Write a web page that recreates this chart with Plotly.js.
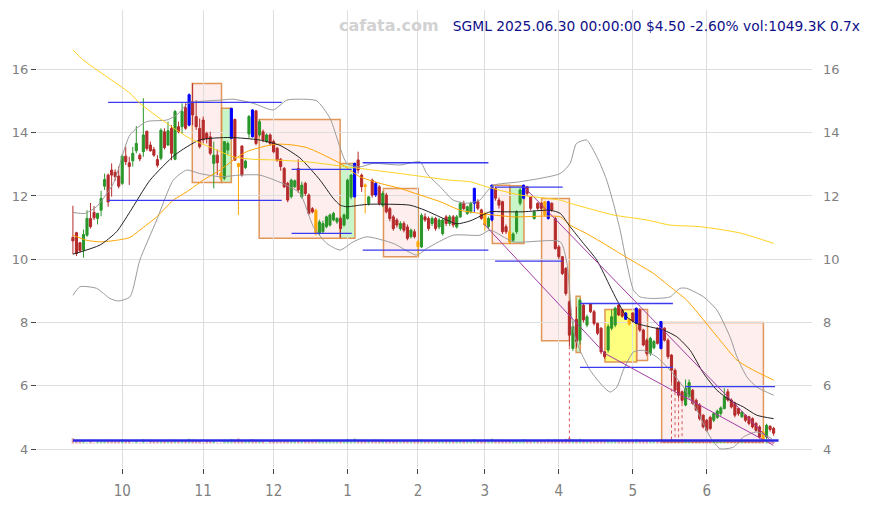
<!DOCTYPE html>
<html><head><meta charset="utf-8">
<script src="https://cdn.plot.ly/plotly-3.0.1.min.js"></script>
<style>html,body{margin:0;padding:0;background:#fff;}#chart{width:871px;height:505px;}</style>
</head><body><div id="chart"></div>
<script>
// ---- daily bars, index 0 = 2024-09-11 ... 199 = 2025-06-30 (trading days) ----
const openP = [
10.69,10.84,10.52,10.29,10.76,11.29,11.48,11.29,11.55,12.31,
12.66,12.82,12.75,12.63,12.40,13.26,13.05,13.11,13.43,13.29,
13.40,14.05,13.61,13.47,13.15,13.19,14.03,13.61,14.14,13.16,
14.19,14.19,14.79,14.24,14.98,14.51,14.14,14.40,13.98,13.87,
13.03,13.29,12.71,12.56,13.45,13.82,14.42,13.03,13.58,12.90,
13.96,14.72,14.69,13.93,14.03,13.72,13.93,13.72,13.51,13.16,
12.87,12.40,11.98,12.29,12.87,11.97,12.40,12.03,11.60,11.55,
10.82,10.87,11.03,11.08,11.24,11.18,11.29,11.08,11.29,11.97,
11.97,13.14,12.66,12.35,11.76,12.50,12.40,12.29,11.71,12.03,
11.60,11.34,11.24,10.97,11.13,11.02,10.71,10.87,10.55,10.39,
11.34,11.29,11.13,11.29,11.02,10.81,11.34,11.13,11.34,11.02,
11.34,11.76,11.45,11.50,11.77,11.82,11.56,11.45,11.03,11.24,
12.24,11.87,11.82,11.03,10.87,10.60,10.87,11.77,11.93,12.29,
11.98,11.29,11.77,11.77,11.82,11.82,11.77,11.29,10.39,10.08,
9.71,8.65,7.18,8.10,7.44,8.55,7.92,8.60,8.34,7.97,
7.82,7.07,7.13,7.82,7.92,8.55,8.39,8.30,8.10,8.30,
7.97,8.39,7.76,7.44,7.02,7.20,7.82,8.03,7.82,7.44,
6.97,6.49,6.12,5.81,5.39,5.65,5.86,5.54,5.39,5.07,
4.91,5.00,4.91,5.00,5.12,5.28,5.81,5.55,5.44,5.28,
5.02,5.07,5.02,4.96,4.81,4.70,4.55,4.38,4.72,4.65];
const highP = [
11.69,10.87,10.55,10.94,11.55,11.78,11.68,11.47,12.16,12.71,
12.71,13.03,12.84,12.94,13.32,13.56,13.24,13.55,14.21,13.35,
15.09,14.05,13.72,13.55,13.29,14.14,14.14,14.35,14.24,14.72,
14.35,14.93,14.93,15.24,15.56,15.03,14.45,14.51,14.03,14.03,
13.72,13.47,12.75,13.72,13.72,14.77,14.45,13.05,13.60,13.15,
14.56,14.74,14.72,14.42,14.10,13.98,13.98,13.78,13.55,13.20,
12.92,12.45,12.55,12.52,13.16,12.45,12.45,12.08,11.65,11.60,
11.25,11.22,11.38,11.45,11.50,11.33,11.35,11.45,12.55,12.70,
13.05,13.40,12.71,12.40,12.00,12.55,12.45,12.35,12.15,12.10,
11.65,11.40,11.30,11.20,11.20,11.10,10.97,10.95,10.60,11.45,
11.45,11.35,11.35,11.34,11.30,11.30,11.40,11.40,11.40,11.40,
11.82,11.85,11.70,11.82,12.26,11.90,11.60,11.50,11.35,12.36,
12.30,11.95,11.85,11.10,10.90,10.85,11.55,12.25,12.36,12.32,
12.00,11.55,11.80,11.80,11.85,11.85,11.80,11.35,10.45,10.10,
9.75,8.70,8.05,8.50,8.75,8.60,8.25,8.62,8.40,8.00,
7.85,7.10,7.95,8.40,8.50,8.60,8.42,8.32,8.12,8.32,
8.47,8.45,7.80,7.50,7.55,7.45,7.85,8.05,7.85,7.50,
7.00,6.55,6.15,5.85,6.20,6.20,5.90,5.60,5.45,5.10,
4.95,5.05,5.15,5.25,5.35,5.92,5.90,5.60,5.50,5.30,
5.20,5.10,5.05,5.00,4.85,4.75,4.57,4.80,4.75,4.70];
const lowP = [
10.16,10.10,10.21,10.05,10.71,10.97,11.24,11.10,11.36,12.19,
11.66,11.98,12.48,12.24,12.35,12.98,12.35,12.93,13.35,13.10,
13.24,13.43,13.40,13.24,12.90,13.13,13.47,13.58,13.13,13.13,
13.98,13.98,14.09,14.20,14.24,14.09,13.50,13.66,13.66,13.29,
12.24,12.66,12.50,12.50,13.30,13.80,13.13,11.40,12.61,12.85,
13.82,13.85,13.60,13.88,13.70,13.68,13.60,13.35,13.08,12.80,
12.25,11.80,11.92,12.25,12.10,11.92,12.00,11.40,11.45,10.75,
10.75,10.82,10.98,11.03,11.20,11.12,10.68,11.03,11.25,11.90,
11.95,12.71,12.13,11.45,11.70,11.95,11.97,11.70,11.65,11.45,
11.20,10.90,11.00,10.90,10.85,10.60,10.66,10.66,10.08,10.35,
11.18,10.90,11.05,10.90,10.95,10.75,11.05,11.05,11.00,10.97,
11.30,11.55,11.40,11.45,11.48,11.55,11.25,10.90,10.95,11.20,
11.85,11.60,10.80,10.80,10.48,10.55,10.80,11.70,11.90,12.00,
11.55,11.25,11.55,11.55,11.34,11.25,11.50,10.30,10.00,9.50,
8.85,7.25,7.10,7.20,7.30,8.00,7.85,8.30,7.90,7.60,
7.00,6.85,7.05,7.75,7.85,8.20,8.15,8.08,7.90,8.00,
7.95,7.70,7.25,6.95,6.95,7.15,7.30,7.15,7.40,6.85,
6.10,5.80,5.60,5.45,5.35,5.60,5.40,5.20,4.90,4.65,
4.55,4.60,4.85,4.95,5.05,5.25,5.50,5.28,5.00,5.05,
4.98,4.85,4.75,4.65,4.55,4.33,4.25,4.30,4.55,4.42];
const closeP = [
10.58,10.18,10.27,10.78,11.29,11.03,11.31,11.45,11.92,12.52,
11.81,12.66,12.61,12.31,13.26,13.08,12.93,13.35,13.66,13.17,
13.93,13.50,13.43,13.29,12.97,14.08,13.53,14.06,13.35,14.67,
14.03,14.67,14.14,15.20,14.56,14.19,13.56,13.77,13.82,13.35,
13.29,13.05,12.56,13.72,13.66,14.77,13.13,12.93,12.66,13.10,
14.51,13.87,13.66,14.35,13.77,13.93,13.66,13.40,13.13,12.93,
12.29,11.87,12.50,12.48,12.19,12.34,12.08,11.45,11.50,10.81,
11.18,11.13,11.34,11.40,11.45,11.29,10.97,11.40,12.50,12.66,
13.03,12.82,12.29,12.30,11.97,12.03,12.03,11.76,12.08,11.50,
11.29,10.97,11.08,11.13,10.92,10.66,10.92,10.71,10.40,11.39,
11.24,10.97,11.29,10.97,11.24,11.24,11.13,11.34,11.08,11.34,
11.76,11.60,11.66,11.76,12.24,11.61,11.29,11.08,11.29,12.34,
11.93,11.71,10.87,10.87,10.55,10.80,11.50,12.19,12.34,12.08,
11.61,11.50,11.61,11.61,11.40,11.29,11.56,10.34,10.08,9.55,
8.92,7.60,7.87,7.40,8.70,8.08,8.18,8.34,7.97,7.66,
7.07,6.92,7.87,8.18,8.45,8.24,8.20,8.10,7.95,8.05,
8.45,7.76,7.29,7.02,7.50,7.40,7.34,7.18,7.44,6.92,
6.49,5.86,5.70,5.54,5.92,6.10,5.44,5.23,4.96,4.70,
4.59,4.65,5.12,5.20,5.30,5.65,5.55,5.33,5.07,5.12,
5.17,4.91,4.81,4.70,4.59,4.38,4.28,4.75,4.62,4.50];
const volumeK = [
2600,1700,1500,1600,400,1800,400,1300,1600,1700,
1800,1600,1300,1400,1800,1500,1500,400,1700,400,
2200,400,1400,1300,1500,1800,1500,1600,1700,1900,
1400,1700,1600,2400,2000,1700,1600,400,1400,1500,
1800,400,400,1900,1300,2300,1900,2500,1700,1200,
1800,2200,1900,1500,1400,400,1300,1400,1500,1400,
1700,1800,1500,1300,1600,1500,1400,1600,1300,1900,
1300,1200,1300,1200,1100,1200,1500,1300,2100,1900,
2500,1800,1600,1900,1300,1500,2000,1500,1400,1600,
1500,1600,1200,1100,1300,1500,1200,1300,1900,2000,
1400,1500,1200,1300,1200,1300,1300,1200,1300,1200,
1500,1300,1200,1300,2200,1500,1400,1800,1300,2400,
1800,1500,1900,1400,1700,1300,1600,1800,2200,1400,
1500,1200,1300,1200,1600,2000,1300,2100,1900,1800,
2300,2800,2200,2000,2400,1800,1500,1400,1600,1500,
1800,1600,1900,1700,1600,1500,1300,1800,1600,1400,
2100,1800,1700,1600,1500,1300,1600,2100,1500,1700,
2200,2000,1800,1600,1900,1700,1600,1500,1700,1600,
1600,1500,1500,1300,1300,1700,1500,1400,1500,1300,
1200,1300,1300,1400,1400,1500,1800,1500,1100,1049];
const volAvgX = [0, 200.4];
const volAvgK = [1499, 1499];
const blueDays = [33,45,51,80,86,114,119,128,135,157,160,167];
const orangeDays = [42,47,69,83,98,117,124,134,158,196];
const monthTickIdx = [14,37,57,78,98,117,138,159,180];
const monthTickText = ['10','11','12','1','2','3','4','5','6'];
const priceTicks = [4,6,8,10,12,14,16];

// moving averages / bands (read at sample days)
const ma20X = [0,7.7,12.4,16.2,21.9,29,36,44.6,53,58.8,64.5,70.2,73.9,75.9,77.8,81.5,84.4,95.7,100,105,109,113,118.5,122.2,127.8,135.5,138.4,141.2,145,148.8,152.6,154.5,157.3,160.1,164,167.7,171.5,175.3,179.1,182.9,186.6,190.4,194.2,199];
const ma20Y = [10.16,10.45,10.87,11.5,12.5,13.3,13.77,13.85,13.77,13.6,13.2,12.5,11.93,11.71,11.66,11.71,11.74,11.71,11.55,11.3,11.12,11.22,11.5,11.5,11.5,11.55,11.45,11.03,10.5,9.97,9.13,8.71,8.18,7.97,7.86,7.76,7.55,7.12,6.39,5.86,5.54,5.33,5.07,4.96];
const bbUpX = [0,3.4,6.7,11.5,16.2,20.9,26.6,29.5,32.8,41.8,45.5,51.2,56.9,60.7,64.5,69.2,73,77.8,81.5,85.2,92.9,98.6,100.5,104.3,108,111.8,115.6,117.5,119.4,127,138.4,141.2,143,145.9,147.8,149.7,151.6,153.5,155.4,157.3,159.2,161.1,164.5,169.6,172.4,174.3,179.1,182.9,186.6,188.6,191.4,194.2,199];
const bbUpY = [11.48,11.45,11.66,12.4,13.93,14.35,14.4,14.56,14.93,15.03,15.06,14.93,14.72,15.03,15.06,15.01,14.46,13.03,12.92,13.03,12.98,13.08,12.71,12.29,11.87,11.77,11.87,12.13,12.34,12.45,12.71,13.03,13.66,13.77,13.45,13.03,12.5,11.77,10.92,9.87,9.02,8.81,8.76,8.81,9.08,9.08,8.81,8.39,7.55,6.91,6.28,5.96,5.7];
const bbLoX = [0,2,6.7,10.5,12.9,16.2,19,23.8,28.5,32.3,36,41.8,47.4,53.1,60.7,64.5,68.3,72.1,75.9,79.6,83.4,91,97.6,100.5,108,115.6,118.5,125.1,138.4,140.3,142.1,144,146.9,150.7,152.6,154.5,156.3,159.2,162,165.8,169.6,173.4,177.2,181,183.8,187.6,190.4,194.2,198.5];
const bbLoY = [8.86,9.13,9.08,8.76,8.68,8.81,9.97,11.24,12.5,12.82,12.71,12.61,12.66,12.66,12.34,12.08,11.03,10.5,10.29,10.55,10.71,10.5,10.13,10.34,10.76,10.76,10.92,10.55,10.55,9.87,7.76,7.12,6.49,5.96,5.8,5.96,6.49,7.07,7.12,6.91,6.49,5.96,5.23,4.38,4.01,4.06,4.38,4.54,4.33];
const ma60X = [0,3.9,7.7,12.4,16.2,19,23.8,28.5,32.3,37,41.8,45.5,49.3,56,58.8,62.6,66.4,70.2,75.9,81.5,87.2,92.9,98.6,104.3,110,115.6,125.1,138.4,141.2,145.9,150.7,155.4,160.1,164.9,169.6,174.3,179.1,183.8,188.6,193.3,199];
const ma60Y = [10.76,10.6,10.55,10.6,10.69,10.92,11.34,11.87,12.13,12.5,12.82,13.13,13.4,13.61,13.64,13.61,13.53,13.35,13.03,12.61,12.4,12.24,12.03,11.82,11.55,11.45,11.34,11.34,11.08,10.81,10.5,10.18,9.87,9.55,9.13,8.71,8.08,7.44,6.81,6.49,6.18];
const maLongX = [0,2.9,9.6,16.2,19,26.6,33.2,39.9,45.5,51.1,56.9,66.4,75.9,92.9,107.1,112.8,117.5,127,138.4,141.2,153.5,163,169.6,178.1,189.5,199];
const maLongY = [16.62,16.3,15.77,15.25,14.93,14.3,13.82,13.5,13.24,13.16,13.14,13.08,12.95,12.71,12.5,12.45,12.29,12.03,11.87,11.77,11.4,11.24,11.08,11.03,10.83,10.5];

// zones
const rectX0 = [33.9,42.2,52.9,75.9,88.2,119.1,124.1,133.1,142.9,151.1,160.1,167.2];
const rectX1 = [42.2,45.0,75.9,80.1,98.1,124.1,128.1,141.0,144.1,160.1,163.2,196.1];
const rectLo = [12.43,12.43,10.66,10.66,10.08,10.50,10.50,7.42,7.05,6.75,6.80,4.22];
const rectHi = [15.56,14.77,14.42,13.03,12.24,12.34,12.32,11.92,8.83,8.41,8.41,8.00];
const rectKind = ['p','g','p','g','p','p','g','p','g','y','p','p'];
// support / resistance segments
const segX0 = [10,10,62.1,62.1,82.3,82.3,119.9,119.9,144,144,173.9];
const segX1 = [59.3,59.3,79.2,79.2,118,118,139.1,139.1,170.4,170.4,199.4];
const segLevel = [14.96,11.86,12.84,10.82,13.05,10.29,12.28,9.94,8.60,6.58,5.97];
// channel lines
const chanLowX = [116.6,151.1,198.9];
const chanLowY = [11.13,7.02,4.12];
const chanHighX = [128,198.9];
const chanHighY = [12.3,4.17];
// dotted markers
const dotDays = [141,170,171,172,173];
const dotFloor = 4.25;

const G='#2a962a', R='#b52a2a', B='#0000ff', O='#ffa500';
const N = closeP.length;
const idx = Array.from({length:N},(_,i)=>i);
function cls(i){ if(blueDays.includes(i)) return 'b'; if(orangeDays.includes(i)) return 'o'; return closeP[i]>=openP[i]?'g':'r'; }
function candle(sel, up, dn){
  const s = idx.filter(sel);
  return {type:'candlestick', x:s, open:s.map(i=>openP[i]), high:s.map(i=>highP[i]), low:s.map(i=>lowP[i]), close:s.map(i=>closeP[i]),
    increasing:{line:{color:up,width:1},fillcolor:up}, decreasing:{line:{color:dn,width:1},fillcolor:dn},
    whiskerwidth:0, hoverinfo:'skip', showlegend:false};
}
const traces = [];
// volume
traces.push({type:'bar', x:idx, y:volumeK, yaxis:'y3', width:0.7,
  marker:{color: idx.map(i=> closeP[i]>=openP[i] ? 'rgba(46,154,46,0.45)' : 'rgba(190,50,50,0.45)'), line:{width:0}},
  hoverinfo:'skip', showlegend:false});
// candles
traces.push(candle(i=>{const c=cls(i);return c==='g'||c==='r';}, G, R));
traces.push(candle(i=>cls(i)==='b', B, B));
traces.push(candle(i=>cls(i)==='o', O, O));
// lines
function line(x,y,color,w,extra){ return Object.assign({type:'scatter',mode:'lines',x:x,y:y,line:{color:color,width:w},hoverinfo:'skip',showlegend:false},extra||{}); }
traces.push(line(bbUpX,bbUpY,'#9a9a9a',1,{line:{color:'#9a9a9a',width:1,shape:'spline',smoothing:0.6}}));
traces.push(line(bbLoX,bbLoY,'#9a9a9a',1,{line:{color:'#9a9a9a',width:1,shape:'spline',smoothing:0.6}}));
traces.push(line(ma60X,ma60Y,'#ffa500',1,{line:{color:'#ffa500',width:1,shape:'spline',smoothing:0.6}}));
traces.push(line(ma20X,ma20Y,'#222',1,{line:{color:'#222222',width:1,shape:'spline',smoothing:0.6}}));
// segments
const sx=[], sy=[];
segLevel.forEach((v,k)=>{ sx.push(segX0[k],segX1[k],null); sy.push(v,v,null); });
traces.push(line(sx,sy,'#3a3af0',1.3));
traces.push(line(chanLowX,chanLowY,'#a23aa2',1));
traces.push(line(chanHighX,chanHighY,'#a23aa2',1));
const dx=[], dy=[];
dotDays.forEach(d=>{ dx.push(d,d,null); dy.push(lowP[d],dotFloor,null); });
traces.push(line(dx,dy,'rgba(215,80,80,0.95)',1,{line:{color:'rgba(215,80,80,0.95)',width:1,dash:'dot'}}));
// long MA on right axis (same scale)
traces.push(line(maLongX,maLongY,'#ffd21f',1,{yaxis:'y2',line:{color:'#ffd21f',width:1,shape:'spline',smoothing:0.6}}));
// volume average line
traces.push(line(volAvgX,volAvgK,'#2a2ae6',2.5,{yaxis:'y3'}));

const fills = {p:'rgba(250,170,170,0.2)', g:'rgba(100,230,100,0.35)', y:'rgba(255,255,0,0.5)'};
const shapes = rectKind.map((k,j)=>({type:'rect', xref:'x', yref:'y', x0:rectX0[j], x1:rectX1[j], y0:rectLo[j], y1:rectHi[j],
  fillcolor:fills[k], line:{color:'rgba(222,140,70,0.9)', width:1.5}, layer:'below'}));

const YR = [3.40, 17.88];
const tickFontY = {family:'DejaVu Sans, sans-serif', size:13, color:'#808080'};
const layout = {
  width:871, height:505, margin:{l:37,r:59,t:10,b:37},
  paper_bgcolor:'#fff', plot_bgcolor:'#fff', showlegend:false,
  boxgap:0.4, boxgroupgap:0,
  xaxis:{type:'linear', range:[-10.2,209.9], tickmode:'array', tickvals:monthTickIdx, ticktext:monthTickText,
    showgrid:true, gridcolor:'#dedede', gridwidth:1, zeroline:false, showline:false,
    ticks:'outside', ticklen:5, tickwidth:1, tickcolor:'#444', ticklabelstandoff:4,
    tickfont:{family:'Liberation Sans Narrow, DejaVu Sans Condensed, sans-serif', size:15, color:'#808080'},
    rangeslider:{visible:false}, fixedrange:true},
  yaxis:{range:YR, tickmode:'array', tickvals:priceTicks, showgrid:true, gridcolor:'#dedede', gridwidth:1,
    zeroline:false, showline:false, ticks:'outside', ticklen:5, tickwidth:1, tickcolor:'#444',
    tickfont:tickFontY, fixedrange:true},
  yaxis2:{range:YR, overlaying:'y', side:'right', tickmode:'array', tickvals:priceTicks, showgrid:false,
    zeroline:false, showline:false, ticks:'', ticklabelstandoff:10, tickfont:tickFontY, fixedrange:true},
  yaxis3:{range:[-12250,216750], overlaying:'y', visible:false, fixedrange:true},
  shapes:shapes,
  title:{text:'SGML 2025.06.30 00:00:00 $4.50 -2.60% vol:1049.3K 0.7x', xref:'container', yref:'container',
    x:860/871, xanchor:'right', y:1-26/505, yanchor:'middle',
    font:{family:'DejaVu Sans, sans-serif', size:13.8, color:'#10108a'}},
  annotations:[{text:'<b>cafata.com</b>', xref:'paper', yref:'paper', x:(389-37)/775, y:(468-26)/458,
    xanchor:'center', yanchor:'middle', showarrow:false,
    font:{family:'DejaVu Sans, sans-serif', size:16, color:'#d2d2d2'}}]
};
Plotly.newPlot('chart', traces, layout, {staticPlot:true, displayModeBar:false});
</script>
</body></html>
